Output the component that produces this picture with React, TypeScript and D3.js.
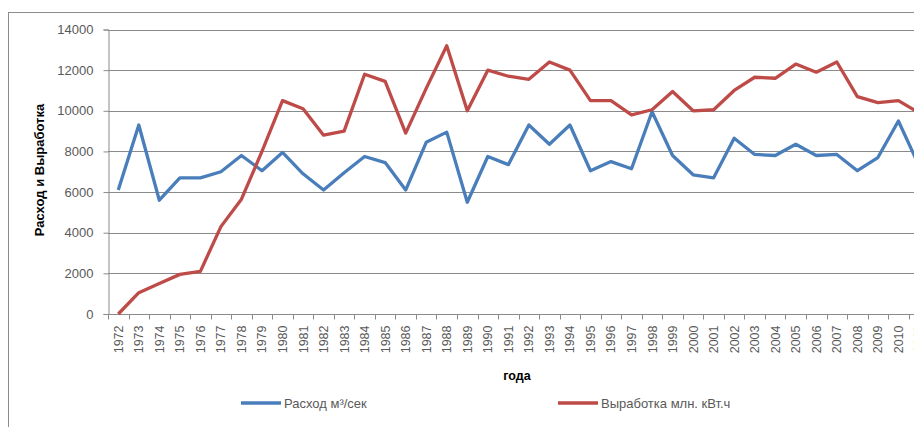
import * as d3 from "d3";
import { useEffect, useRef } from "react";

const years = [
  1972, 1973, 1974, 1975, 1976, 1977, 1978, 1979, 1980, 1981,
  1982, 1983, 1984, 1985, 1986, 1987, 1988, 1989, 1990, 1991,
  1992, 1993, 1994, 1995, 1996, 1997, 1998, 1999, 2000, 2001,
  2002, 2003, 2004, 2005, 2006, 2007, 2008, 2009, 2010, 2011,
];

// Расход м³/сек
const flow = [
  6100, 9300, 5600, 6700, 6700, 7000, 7800, 7050, 7950, 6900,
  6100, 6950, 7750, 7450, 6100, 8450, 8950, 5500, 7750, 7350,
  9300, 8350, 9300, 7050, 7500, 7150, 9950, 7800, 6850, 6700,
  8650, 7850, 7800, 8350, 7800, 7850, 7050, 7700, 9500, 7300,
];

// Выработка млн. кВт.ч
const energy = [
  0, 1050, 1500, 1950, 2100, 4300, 5650, 8000, 10500, 10100,
  8800, 9000, 11800, 11450, 8900, 11100, 13200, 10000, 12000, 11700,
  11550, 12400, 12000, 10500, 10500, 9800, 10050, 10950, 10000, 10050,
  11000, 11650, 11600, 12300, 11900, 12400, 10700, 10400, 10500, 9900,
];

const yTicks = [0, 2000, 4000, 6000, 8000, 10000, 12000, 14000];

const seriesNames = ["Расход м³/сек", "Выработка млн. кВт.ч"];
const seriesColors = ["#4a7ebb", "#be4b48"];

const W = 914;
const H = 427;
const font = "'Liberation Sans', Arial, sans-serif";

const App = () => {
  const ref = useRef<SVGSVGElement>(null);

  useEffect(() => {
    const svg = d3.select(ref.current);
    svg.selectAll("*").remove();

    const x = d3.scaleBand<number>()
      .domain(years)
      .range([108, 108 + years.length * 20.53])
      .padding(0);
    const y = d3.scaleLinear().domain([0, 14000]).range([314, 29.5]);

    // frame
    svg.append("rect")
      .attr("x", 8.5).attr("y", 12.5)
      .attr("width", 1000).attr("height", 600)
      .attr("fill", "#fff")
      .attr("stroke", "#8c8c8c")
      .attr("stroke-width", 1);

    // grid
    svg.append("g")
      .selectAll("line")
      .data(yTicks.filter(d => d > 0))
      .join("line")
      .attr("x1", 108).attr("x2", 940)
      .attr("y1", d => Math.round(y(d)) + 0.5)
      .attr("y2", d => Math.round(y(d)) + 0.5)
      .attr("stroke", "#8a8a8a")
      .attr("stroke-width", 1);

    // y axis
    const yAxis = svg.append("g")
      .attr("transform", "translate(108.5,0)")
      .call(d3.axisLeft(y).tickValues(yTicks).tickSize(5).tickPadding(10).tickFormat(d3.format("d")));
    yAxis.select(".domain").attr("stroke", "#8a8a8a");
    yAxis.selectAll(".tick line").attr("stroke", "#8a8a8a");
    yAxis.selectAll("text")
      .attr("font-family", font)
      .attr("font-size", 13)
      .attr("fill", "#595959");

    // x axis
    const xa = svg.append("g").attr("transform", `translate(0,${Math.round(y(0)) + 0.5})`);
    xa.append("line")
      .attr("x1", 108).attr("x2", 940)
      .attr("stroke", "#8a8a8a");
    xa.selectAll(".tk")
      .data(d3.range(years.length + 1))
      .join("line")
      .attr("x1", i => Math.round(108 + i * x.step()) + 0.5)
      .attr("x2", i => Math.round(108 + i * x.step()) + 0.5)
      .attr("y1", 0).attr("y2", 5)
      .attr("stroke", "#8a8a8a");
    xa.selectAll(".lbl")
      .data(years)
      .join("text")
      .attr("transform", d => `translate(${x(d)! + x.bandwidth() / 2 + 4.5},11) rotate(-90)`)
      .attr("text-anchor", "end")
      .attr("font-family", font)
      .attr("font-size", 12.5)
      .attr("fill", "#595959")
      .text(d => String(d));

    // lines
    const line = d3.line<number>()
      .x((_, i) => x(years[i])! + x.bandwidth() / 2)
      .y(d => y(d));
    [flow, energy].forEach((s, k) => {
      svg.append("path")
        .datum(s)
        .attr("d", line)
        .attr("fill", "none")
        .attr("stroke", seriesColors[k])
        .attr("stroke-width", 3.3)
        .attr("stroke-linejoin", "round");
    });

    // axis titles
    svg.append("text")
      .attr("transform", "translate(44,170) rotate(-90)")
      .attr("text-anchor", "middle")
      .attr("font-family", font)
      .attr("font-size", 13)
      .attr("font-weight", "bold")
      .attr("fill", "#000")
      .text("Расход и Выработка");
    svg.append("text")
      .attr("x", 517).attr("y", 380)
      .attr("text-anchor", "middle")
      .attr("font-family", font)
      .attr("font-size", 12.5)
      .attr("font-weight", "bold")
      .attr("fill", "#000")
      .text("года");

    // legend
    const legendX = [241, 558];
    seriesNames.forEach((name, k) => {
      const g = svg.append("g").attr("transform", `translate(${legendX[k]},403)`);
      g.append("line")
        .attr("x1", 0).attr("x2", 40)
        .attr("stroke", seriesColors[k])
        .attr("stroke-width", 3.3);
      g.append("text")
        .attr("x", 43).attr("y", 4.5)
        .attr("font-family", font)
        .attr("font-size", 13)
        .attr("fill", "#595959")
        .text(name);
    });
  }, []);

  return (
    <svg
      ref={ref}
      width={W}
      height={H}
      style={{ position: "absolute", left: 0, top: 0, background: "#fff" }}
    />
  );
};

export default App;
